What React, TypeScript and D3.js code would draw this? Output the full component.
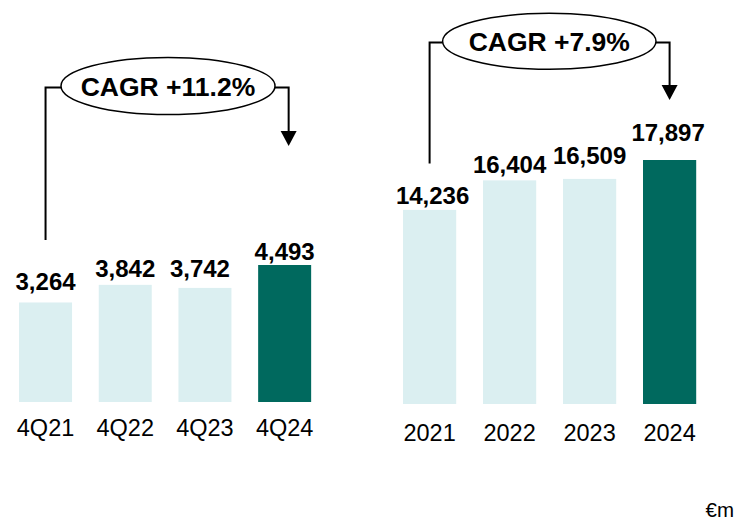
import React from "react";
import * as d3 from "d3";

const quarterCats = ["4Q21", "4Q22", "4Q23", "4Q24"];
const quarterVals = [3264, 3842, 3742, 4493];
const yearCats = ["2021", "2022", "2023", "2024"];
const yearVals = [14236, 16404, 16509, 17897];
const cagrLabels = ["CAGR +11.2%", "CAGR +7.9%"];
const unitLabel = "€m";

const LIGHT = "#dbeff1";
const DARK = "#00695e";
const FONT = "'Liberation Sans', Arial, sans-serif";

const fmt = d3.format(",");

// per-label vertical lift above bar top and horizontal nudge
const qLift = [12, 8, 10.5, 5.5];
const qNudge = [0, 0, -5, 0];
const yLift = [6, 7.5, 14.5, 19];
const yNudge = [3, 0, 0, -1.5];

function Panel({ cats, vals, x0, x1, base, top, lift, nudge, catY, cagr, ellipse, bracketTopY, leftBottom, rightArrowEnd, rightXOffset }) {
  const x = d3.scaleBand().domain(cats).range([x0, x1]).paddingInner(0.335).paddingOuter(0.1675);
  const y = d3.scaleLinear().domain([0, d3.max(vals)]).range([base, top]);
  const bw = x.bandwidth();
  const cx = (c) => x(c) + bw / 2;
  const firstX = cx(cats[0]);
  const lastX = cx(cats[cats.length - 1]) + rightXOffset;
  const arrowH = 15;
  const arrowW = 16;
  return (
    <g>
      {cats.map((c, i) => (
        <rect key={c} x={x(c)} y={y(vals[i])} width={bw} height={base - y(vals[i])} fill={i === cats.length - 1 ? DARK : LIGHT} />
      ))}
      {cats.map((c, i) => (
        <text key={"v" + c} x={cx(c) + nudge[i]} y={y(vals[i]) - lift[i]} textAnchor="middle" fontFamily={FONT} fontWeight="bold" fontSize={24} fill="#000">
          {fmt(vals[i])}
        </text>
      ))}
      {cats.map((c) => (
        <text key={"c" + c} x={cx(c)} y={catY} textAnchor="middle" fontFamily={FONT} fontSize={23.5} fill="#000">
          {c}
        </text>
      ))}
      <path d={`M${firstX},${leftBottom} V${bracketTopY} H${ellipse.cx - ellipse.rx}`} fill="none" stroke="#000" strokeWidth={2} />
      <path d={`M${ellipse.cx + ellipse.rx},${bracketTopY} H${lastX} V${rightArrowEnd - arrowH}`} fill="none" stroke="#000" strokeWidth={2} />
      <path d={`M${lastX - arrowW / 2},${rightArrowEnd - arrowH} L${lastX + arrowW / 2},${rightArrowEnd - arrowH} L${lastX},${rightArrowEnd} Z`} fill="#000" />
      <ellipse cx={ellipse.cx} cy={ellipse.cy} rx={ellipse.rx} ry={ellipse.ry} fill="#fff" stroke="#000" strokeWidth={1.5} />
      <text x={ellipse.cx} y={ellipse.cy + 9.5} textAnchor="middle" fontFamily={FONT} fontWeight="bold" fontSize={26.5} fill="#000">
        {cagr}
      </text>
    </g>
  );
}

export default function App() {
  return (
    <svg width={736} height={520} style={{ position: "absolute", left: 0, top: 0, background: "#fff" }}>
      <rect width={736} height={520} fill="#fff" />
      <Panel
        cats={quarterCats}
        vals={quarterVals}
        x0={5.7}
        x1={324.5}
        base={402}
        top={265}
        lift={qLift}
        nudge={qNudge}
        catY={436}
        cagr={cagrLabels[0]}
        ellipse={{ cx: 168, cy: 86, rx: 107, ry: 28.5 }}
        bracketTopY={87.5}
        leftBottom={240}
        rightArrowEnd={146}
        rightXOffset={4}
      />
      <Panel
        cats={yearCats}
        vals={yearVals}
        x0={389.6}
        x1={709.6}
        base={404}
        top={160}
        lift={yLift}
        nudge={yNudge}
        catY={441}
        cagr={cagrLabels[1]}
        ellipse={{ cx: 549.3, cy: 41.3, rx: 106.7, ry: 28 }}
        bracketTopY={42.5}
        leftBottom={163.5}
        rightArrowEnd={100}
        rightXOffset={0}
      />
      <text x={734} y={517} textAnchor="end" fontFamily={FONT} fontSize={20.5} fill="#000">
        {unitLabel}
      </text>
    </svg>
  );
}
